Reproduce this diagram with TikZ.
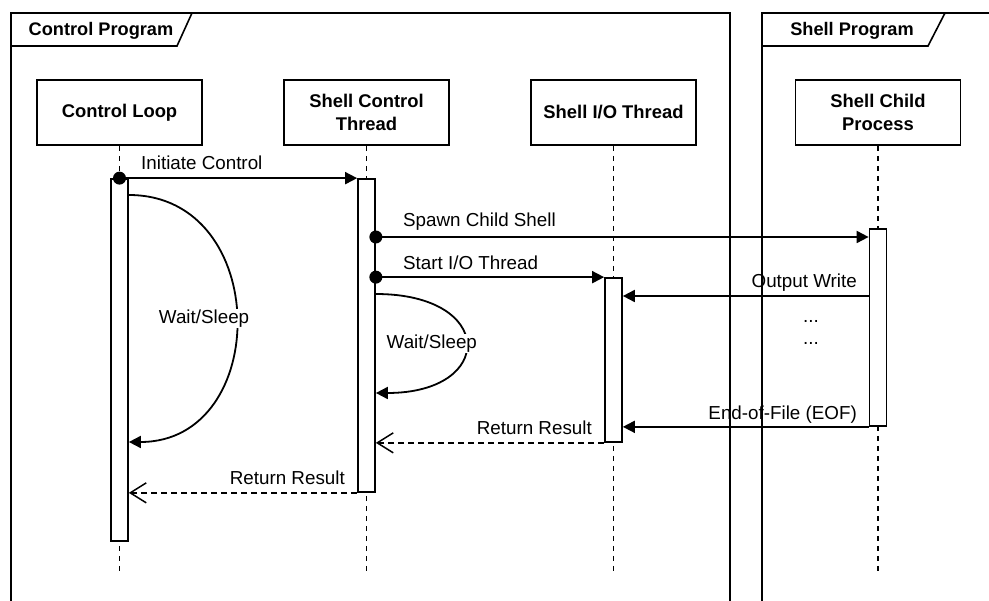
\documentclass[tikz,border=0pt]{standalone}
\usepackage{fontspec}
\setmainfont{Liberation Sans}
\usetikzlibrary{arrows.meta}
\begin{document}
\begin{tikzpicture}[x=1pt,y=-1pt,
  every node/.style={font=\fontsize{18.8}{22}\selectfont},
  frame/.style={line width=1.6pt},
  tab/.style={font=\bfseries\fontsize{18.2}{21}\selectfont, inner sep=0pt},
  head/.style={draw, line width=1.7pt, minimum width=165pt, minimum height=65pt,
    align=center, inner sep=0pt, font=\bfseries\fontsize{18.4}{22.5}\selectfont},
  life/.style={line width=1.4pt, dash pattern=on 5pt off 5pt},
  bar/.style={draw, fill=white, line width=1.7pt, minimum width=17pt, inner sep=0pt},
  msg/.style={line width=1.8pt, -{Triangle[length=12pt,width=12pt]}},
  ret/.style={line width=1.5pt, dash pattern=on 6pt off 4pt,
    -{Straight Barb[length=16pt,width=20pt,line width=1.5pt]}},
  dot/.style={circle, fill=black, inner sep=0pt, minimum size=13pt},
  lbl/.style={inner sep=0pt},
  loopl/.style={fill=white, inner sep=1pt}
]
\useasboundingbox (0,0) rectangle (989,601);

% frames with their name tabs
\draw[frame] (11,601) -- (11,13) -- (730,13) -- (730,601);
\draw[frame] (11,46) -- (177,46) -- (192,13);
\node[tab] (cpname) at (101,31) {Control Program};
\draw[frame] (762,601) -- (762,13) -- (989,13);
\draw[frame] (762,46) -- (928,46) -- (945,13);
\node[tab] (spname) at (852,31) {Shell Program};

% participants
\node[head] (cl)  at (119.5,112.5) {Control Loop};
\node[head] (sct) at (366.5,112.5) {Shell Control\\Thread};
\node[head] (sio) at (613.5,112.5) {Shell I/O Thread};
\node[head] (scp) at (878,112.5)   {Shell Child\\Process};

% lifelines
\coordinate (clE)  at (119.5,575);
\coordinate (sctE) at (366.5,575);
\coordinate (sioE) at (613.5,575);
\coordinate (scpE) at (878,575);
\draw[life] (cl.south) -- (clE);
\draw[life] (sct.south) -- (sctE);
\draw[life] (sio.south) -- (sioE);
\draw[life] (scp.south) -- (scpE);

% activation bars
\node[bar, minimum height=362pt] (clb)  at (119.5,360)   {};
\node[bar, minimum height=313pt] (sctb) at (366.5,335.5) {};
\node[bar, minimum height=164pt] (siob) at (613.5,360)   {};
\node[bar, minimum height=197pt] (scpb) at (878,327.5)   {};

% Initiate Control
\draw[msg] (clb.north) -- (sctb.north west);
\node[dot] (d1) at (clb.north) {};
\node[lbl, anchor=base west] (l1) at (141,170) {Initiate Control};

% Spawn Child Shell
\draw[msg] (sctb.east |- 0,237) -- (scpb.west |- 0,237);
\node[dot] (d2) at (sctb.east |- 0,237) {};
\node[lbl, anchor=base west] (l2) at (403,227) {Spawn Child Shell};

% Start I/O Thread
\draw[msg] (sctb.east |- siob.north) -- (siob.north west);
\node[dot] (d3) at (sctb.east |- siob.north) {};
\node[lbl, anchor=base west] (l3) at (403,270) {Start I/O Thread};

% waiting loops
\draw[msg] (clb.east |- 0,195) .. controls +(143,0) and +(143,0) ..
  node[pos=0.5, anchor=east, xshift=15pt, loopl] (w1) {Wait/Sleep}
  (clb.east |- 0,442);
\draw[msg] (sctb.east |- 0,294) .. controls +(120,0) and +(120,0) ..
  node[pos=0.5, anchor=east, xshift=13pt, loopl] (w2) {Wait/Sleep}
  (sctb.east |- 0,393);

% output from the child process
\draw[msg] (scpb.west |- 0,296) -- (siob.east |- 0,296);
\node[lbl, anchor=base east] (l4) at (857,288) {Output Write};
\node[lbl] (e1) at (811,321) {...};
\node[lbl] (e2) at (811,343) {...};
\draw[msg] (scpb.south west) -- (siob.east |- scpb.south west);
\node[lbl, anchor=base east] (l5) at (857,420) {End-of-File (EOF)};

% results
\draw[ret] (siob.south west) -- (sctb.east |- siob.south west);
\node[lbl, anchor=base east] (l6) at (592,435) {Return Result};
\draw[ret] (sctb.south west) -- (clb.east |- sctb.south west);
\node[lbl, anchor=base east] (l7) at (345,485) {Return Result};
\end{tikzpicture}
\end{document}
